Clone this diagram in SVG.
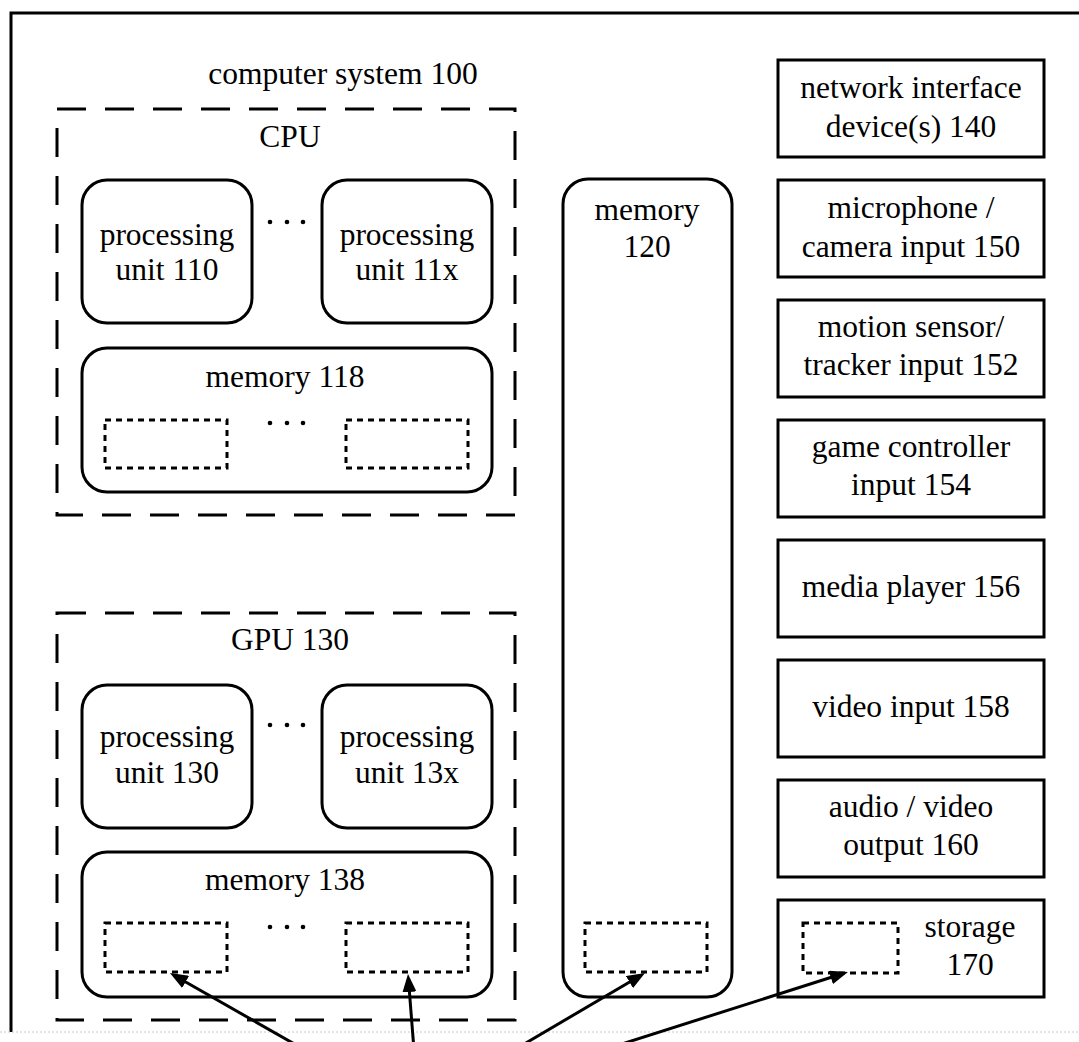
<svg xmlns="http://www.w3.org/2000/svg" width="1079" height="1042" viewBox="0 0 1079 1042">
  <style>
    .t { font-family: "Liberation Serif", "Times New Roman", serif; font-size: 31.5px; fill: #000; text-anchor: middle; }
    .solid { fill: none; stroke: #000; stroke-width: 3; }
    .dash { fill: none; stroke: #000; stroke-width: 3; stroke-dasharray: 29 19; }
    .dot { fill: none; stroke: #000; stroke-width: 3; stroke-dasharray: 6 5; }
    .ell { fill: #000; }
    .link { fill: none; stroke: #000; stroke-width: 3; marker-end: url(#arrow); }
  </style>
  <defs>
    <marker id="arrow" viewBox="0 0 18 14" refX="13" refY="7" markerWidth="18" markerHeight="14" markerUnits="userSpaceOnUse" orient="auto">
      <path d="M0,0 L18,7 L0,14 z" fill="#000"/>
    </marker>
  </defs>
  <rect width="1079" height="1042" fill="#fff"/>

  <!-- enclosing system frame -->
  <g id="system">
    <path class="solid" d="M11,1032 V13 H1090"/>
    <line x1="0" y1="1032" x2="1079" y2="1032" stroke="#c8c8c8" stroke-width="1" stroke-dasharray="2 2"/>
    <text class="t" x="343" y="84">computer system 100</text>
  </g>

  <!-- CPU -->
  <g id="cpu">
    <rect class="dash" x="57" y="109" width="458" height="406"/>
    <text class="t" x="290" y="147">CPU</text>
  </g>
  <g id="pu110">
    <rect class="solid" x="82" y="180" width="170" height="143" rx="25"/>
    <text class="t" x="167" y="245">processing</text>
    <text class="t" x="167" y="280">unit 110</text>
  </g>
  <g id="cpu-ellipsis">
    <circle class="ell" cx="270" cy="222" r="2.3"/>
    <circle class="ell" cx="287" cy="222" r="2.3"/>
    <circle class="ell" cx="303" cy="222" r="2.3"/>
  </g>
  <g id="pu11x">
    <rect class="solid" x="322" y="180" width="170" height="143" rx="25"/>
    <text class="t" x="407" y="245">processing</text>
    <text class="t" x="407" y="280">unit 11x</text>
  </g>
  <g id="mem118">
    <rect class="solid" x="82" y="348" width="410" height="144" rx="25"/>
    <text class="t" x="285" y="387">memory 118</text>
    <rect class="dot" x="105" y="420" width="122" height="48"/>
    <circle class="ell" cx="270" cy="423" r="2.3"/>
    <circle class="ell" cx="287" cy="423" r="2.3"/>
    <circle class="ell" cx="303" cy="423" r="2.3"/>
    <rect class="dot" x="346" y="420" width="122" height="48"/>
  </g>

  <!-- GPU -->
  <g id="gpu">
    <rect class="dash" x="57" y="613" width="458" height="407"/>
    <text class="t" x="290" y="650">GPU 130</text>
  </g>
  <g id="pu130">
    <rect class="solid" x="82" y="685" width="170" height="143" rx="25"/>
    <text class="t" x="167" y="747">processing</text>
    <text class="t" x="167" y="783">unit 130</text>
  </g>
  <g id="gpu-ellipsis">
    <circle class="ell" cx="270" cy="725" r="2.3"/>
    <circle class="ell" cx="287" cy="725" r="2.3"/>
    <circle class="ell" cx="303" cy="725" r="2.3"/>
  </g>
  <g id="pu13x">
    <rect class="solid" x="322" y="685" width="170" height="143" rx="25"/>
    <text class="t" x="407" y="747">processing</text>
    <text class="t" x="407" y="783">unit 13x</text>
  </g>
  <g id="mem138">
    <rect class="solid" x="82" y="852" width="410" height="145" rx="25"/>
    <text class="t" x="285" y="890">memory 138</text>
    <rect class="dot" x="105" y="923" width="122" height="49"/>
    <circle class="ell" cx="270" cy="927" r="2.3"/>
    <circle class="ell" cx="287" cy="927" r="2.3"/>
    <circle class="ell" cx="303" cy="927" r="2.3"/>
    <rect class="dot" x="346" y="923" width="122" height="49"/>
  </g>

  <!-- main memory -->
  <g id="mem120">
    <rect class="solid" x="563" y="179" width="169" height="818" rx="25"/>
    <text class="t" x="647" y="220">memory</text>
    <text class="t" x="647" y="257">120</text>
    <rect class="dot" x="585" y="923" width="122" height="49"/>
  </g>

  <!-- peripheral column -->
  <g id="nid140">
    <rect class="solid" x="778" y="60" width="266" height="97"/>
    <text class="t" x="911" y="98">network interface</text>
    <text class="t" x="911" y="137">device(s) 140</text>
  </g>
  <g id="mic150">
    <rect class="solid" x="778" y="180" width="266" height="97"/>
    <text class="t" x="911" y="218">microphone /</text>
    <text class="t" x="911" y="257">camera input 150</text>
  </g>
  <g id="motion152">
    <rect class="solid" x="778" y="300" width="266" height="97"/>
    <text class="t" x="911" y="337">motion sensor/</text>
    <text class="t" x="911" y="375">tracker input 152</text>
  </g>
  <g id="game154">
    <rect class="solid" x="778" y="420" width="266" height="97"/>
    <text class="t" x="911" y="457">game controller</text>
    <text class="t" x="911" y="495">input 154</text>
  </g>
  <g id="media156">
    <rect class="solid" x="778" y="540" width="266" height="97"/>
    <text class="t" x="911" y="597">media player 156</text>
  </g>
  <g id="video158">
    <rect class="solid" x="778" y="660" width="266" height="97"/>
    <text class="t" x="911" y="717">video input 158</text>
  </g>
  <g id="av160">
    <rect class="solid" x="778" y="780" width="266" height="97"/>
    <text class="t" x="911" y="817">audio / video</text>
    <text class="t" x="911" y="855">output 160</text>
  </g>
  <g id="storage170">
    <rect class="solid" x="778" y="900" width="266" height="97"/>
    <rect class="dot" x="803" y="923" width="95" height="50"/>
    <text class="t" x="970" y="937">storage</text>
    <text class="t" x="970" y="975">170</text>
  </g>

  <!-- connectors -->
  <g id="connectors">
    <line class="link" x1="305" y1="1050" x2="174.3" y2="975.5"/>
    <line class="link" x1="414" y1="1050" x2="408.4" y2="979"/>
    <line class="link" x1="514" y1="1050" x2="640.7" y2="975.5"/>
    <line class="link" x1="603" y1="1050" x2="843.2" y2="973.5"/>
  </g>
</svg>
